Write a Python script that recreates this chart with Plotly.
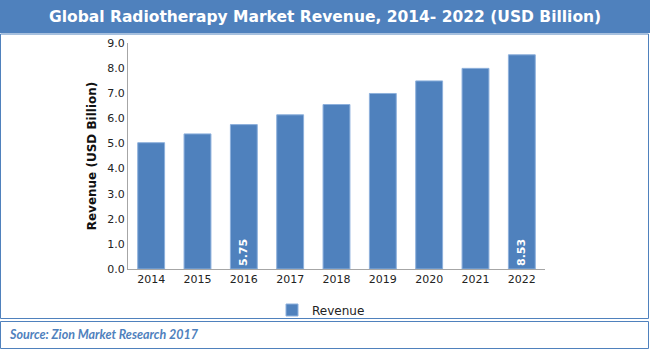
import plotly.graph_objects as go

years = ["2014", "2015", "2016", "2017", "2018", "2019", "2020", "2021", "2022"]
revenue = [5.03, 5.38, 5.75, 6.14, 6.55, 6.99, 7.49, 7.99, 8.53]
labeled_years = ["2016", "2022"]
y_ticks = [0, 1, 2, 3, 4, 5, 6, 7, 8, 9]

W, H = 650, 350
L, R, T, B = 128, 545, 43, 269

def px(x):
    return (x - L) / (R - L)

def py(y):
    return (B - y) / (B - T)

blue = "#4F81BD"
texts = [f"{v:.2f}" if yr in labeled_years else "" for yr, v in zip(years, revenue)]

fig = go.Figure()
fig.add_trace(go.Bar(
    x=years, y=revenue, name="Revenue",
    marker=dict(color=blue, line=dict(color="#8DB0DC", width=1)),
    text=texts, textposition="inside", insidetextanchor="start", textangle=-90,
    textfont=dict(family="DejaVu Sans", size=11, color="white", weight="bold"),
    cliponaxis=False,
))

shapes = [
    dict(type="rect", xref="paper", yref="paper", x0=px(0), x1=px(650), y0=py(0), y1=py(33),
         fillcolor=blue, line=dict(width=0), layer="below"),
    dict(type="rect", xref="paper", yref="paper", x0=px(0.5), x1=px(648.5), y0=py(34), y1=py(318.5),
         fillcolor="rgba(0,0,0,0)", line=dict(color=blue, width=1)),
    dict(type="rect", xref="paper", yref="paper", x0=px(0.5), x1=px(648.5), y0=py(321.5), y1=py(348.5),
         fillcolor="rgba(0,0,0,0)", line=dict(color=blue, width=1)),
]

annotations = [
    dict(text="<b>Global Radiotherapy Market Revenue, 2014- 2022 (USD Billion)</b>",
         xref="paper", yref="paper", x=px(325), y=py(17), xanchor="center", yanchor="middle",
         showarrow=False, font=dict(family="DejaVu Sans", size=15.5, color="white")),
    dict(text="<b><i>Source: Zion Market Research 2017</i></b>",
         xref="paper", yref="paper", x=px(7), y=py(334), xanchor="left", yanchor="middle",
         showarrow=False, font=dict(family="Lato", size=12.5, color=blue)),
]

fig.update_layout(
    width=W, height=H,
    margin=dict(l=L, r=W - R, t=T, b=H - B),
    paper_bgcolor="white", plot_bgcolor="white",
    bargap=0.42,
    showlegend=True,
    legend=dict(orientation="h", x=px(272), y=py(310), xanchor="left", yanchor="middle",
                bgcolor="rgba(0,0,0,0)",
                font=dict(family="DejaVu Sans", size=12, color="#222222"),
                itemwidth=30, traceorder="normal"),
    shapes=shapes, annotations=annotations,
    xaxis=dict(showline=True, linecolor="#A6A6A6", linewidth=1, ticks="",
               tickfont=dict(family="DejaVu Sans", size=11, color="#222222"),
               showgrid=False),
    yaxis=dict(range=[0, 9], tickvals=y_ticks, ticktext=[f"{v:.1f}" for v in y_ticks],
               showline=True, linecolor="#A6A6A6", linewidth=1, ticks="",
               showgrid=False, zeroline=False,
               tickfont=dict(family="DejaVu Sans", size=11, color="#222222"),
               title=dict(text="<b>Revenue (USD Billion)</b>", standoff=8,
                          font=dict(family="DejaVu Sans", size=12, color="#111111"))),
)

fig.write_html("out.html")
